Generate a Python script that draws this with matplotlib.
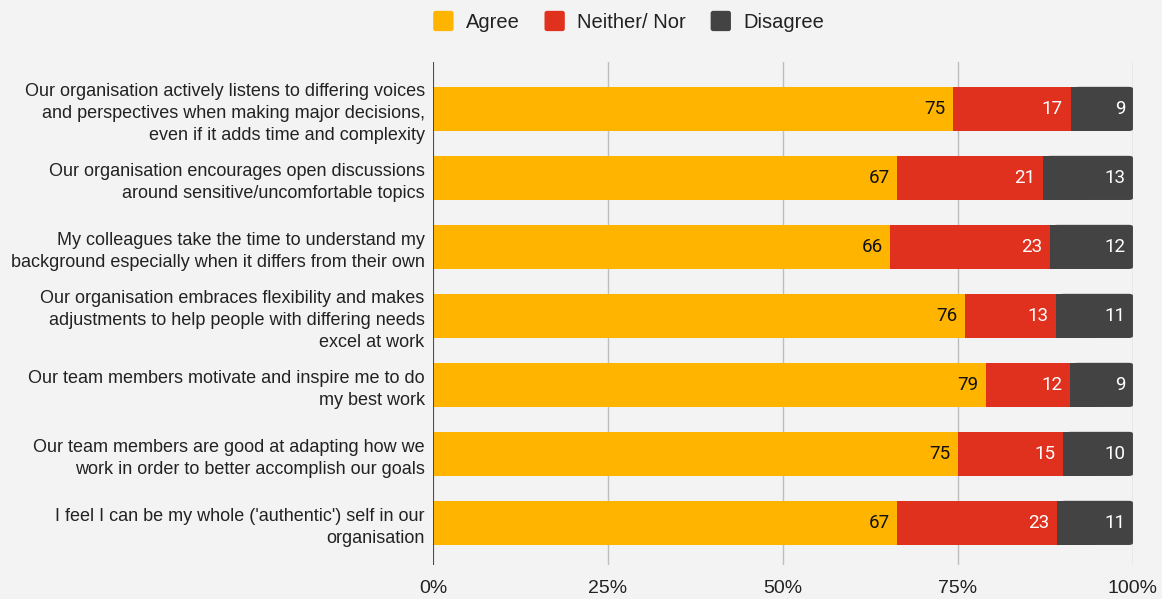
import matplotlib
matplotlib.use("Agg")
import matplotlib.pyplot as plt
from matplotlib.patches import FancyBboxPatch
from matplotlib.legend_handler import HandlerPatch
import numpy as np

statements = [
    "Our organisation actively listens to differing voices\nand perspectives when making major decisions,\neven if it adds time and complexity",
    "Our organisation encourages open discussions\naround sensitive/uncomfortable topics",
    "My colleagues take the time to understand my\nbackground especially when it differs from their own",
    "Our organisation embraces flexibility and makes\nadjustments to help people with differing needs\nexcel at work",
    "Our team members motivate and inspire me to do\nmy best work",
    "Our team members are good at adapting how we\nwork in order to better accomplish our goals",
    "I feel I can be my whole ('authentic') self in our\norganisation",
]
agree = [75, 67, 66, 76, 79, 75, 67]
neither = [17, 21, 23, 13, 12, 15, 23]
disagree = [9, 13, 12, 11, 9, 10, 11]

series_names = ["Agree", "Neither/ Nor", "Disagree"]
colors = ["#FFB400", "#E0301E", "#434343"]
text_colors = ["#111111", "#ffffff", "#ffffff"]
bg = "#f3f3f3"

fig = plt.figure(figsize=(11.62, 5.99), dpi=100, facecolor=bg)
ax = fig.add_axes([0.3726, 0.0568, 0.6024, 0.8397], facecolor=bg)

data = np.array([agree, neither, disagree], dtype=float)
totals = data.sum(axis=0)
shares = data / totals * 100

y = np.arange(len(statements))
bar_h = 0.64
left = np.zeros(len(statements))
for i, (name, col) in enumerate(zip(series_names, colors)):
    w = shares[i]
    if i < 2:
        ax.barh(y, w, left=left, height=bar_h, color=col, zorder=3, linewidth=0)
    else:
        # last segment with slightly rounded right corners
        for yi, (l, wi) in enumerate(zip(left, w)):
            ax.barh(yi, wi / 2, left=l, height=bar_h, color=col, zorder=3, linewidth=0)
            ax.add_patch(FancyBboxPatch((l + 0.5, yi - bar_h / 2), wi - 0.5, bar_h,
                                        boxstyle="round,pad=0,rounding_size=0.6",
                                        mutation_aspect=0.045,
                                        facecolor=col, edgecolor="none", zorder=3))
    for yi, (l, wi, v) in enumerate(zip(left, w, data[i])):
        ax.text(l + wi - 1.1, yi, f"{int(v)}", ha="right", va="center",
                fontsize=13.5, family="Roboto", color=text_colors[i], zorder=4)
    left = left + w

ax.set_xlim(0, 100)
ax.set_ylim(6.61, -0.68)
ax.set_yticks(y)
ax.set_yticklabels(statements, fontsize=13, family="Liberation Sans", color="#222222",
                   linespacing=1.4)
ax.tick_params(axis="y", length=0, pad=6)

ax.set_xticks([0, 25, 50, 75, 100])
ax.set_xticklabels(["0%", "25%", "50%", "75%", "100%"], fontsize=14,
                   family="Liberation Sans", color="#222222")
ax.tick_params(axis="x", length=0, pad=11)
ax.grid(axis="x", color="#bdbdbd", linewidth=1, zorder=0)
for s in ax.spines.values():
    s.set_visible(False)
ax.axvline(0, color="#333333", linewidth=1.2, zorder=5)


class RoundSquare(HandlerPatch):
    def create_artists(self, legend, orig_handle, xdescent, ydescent, width, height,
                       fontsize, trans):
        s = min(width, height) * 1.05
        p = FancyBboxPatch((-xdescent + (width - s) / 2, -ydescent + (height - s) / 2), s, s,
                           boxstyle="round,pad=0,rounding_size=%f" % (s * 0.12),
                           facecolor=orig_handle.get_facecolor(), edgecolor="none",
                           transform=trans)
        return [p]


handles = [FancyBboxPatch((0, 0), 1, 1, facecolor=c, edgecolor="none") for c in colors]
leg = fig.legend(handles, series_names, loc="center", bbox_to_anchor=(0.5405, 0.964),
                 ncol=3, frameon=False, handlelength=1.1, handleheight=1.1,
                 handletextpad=0.55, columnspacing=1.2,
                 handler_map={FancyBboxPatch: RoundSquare()},
                 prop={"family": "Liberation Sans", "size": 14.5})
for t in leg.get_texts():
    t.set_color("#222222")

fig.savefig("out.png", dpi=100, facecolor=bg)
